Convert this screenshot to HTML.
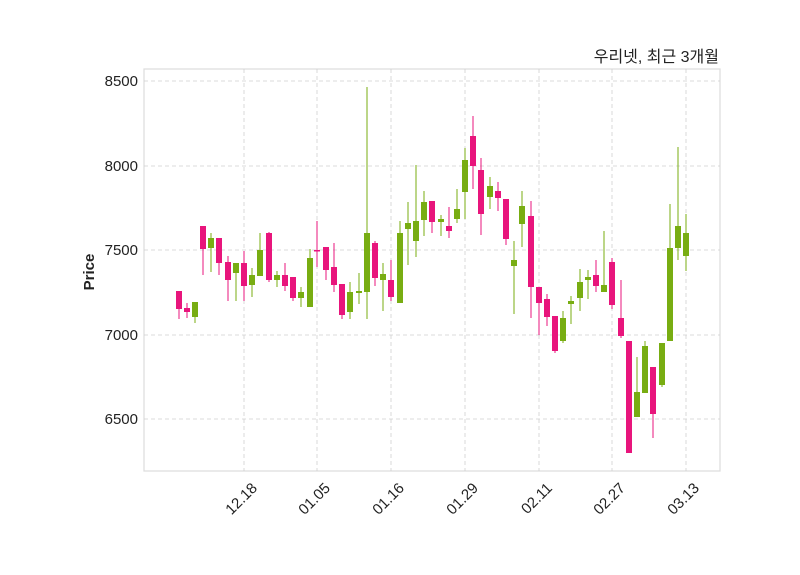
<!DOCTYPE html>
<html><head><meta charset="utf-8"><style>
body{margin:0;background:#fff;}
svg{display:block;font-family:"Liberation Sans","Noto Sans CJK KR",sans-serif;}
.r line,.g line{shape-rendering:crispEdges}
.r line{stroke:#e8157c;stroke-width:1}
.r rect{fill:#e8157c}
.g line{stroke:#78ad12;stroke-width:1}
.g rect{fill:#78ad12}
.grid line{stroke:#cfcfcf;stroke-width:0.8;stroke-dasharray:4,3}
</style></head><body>
<svg width="800" height="575" viewBox="0 0 800 575">
<rect x="144" y="69" width="576" height="402" fill="#fff" stroke="#dcdcdc" stroke-width="1.2"/>
<g class="grid">
<line x1="144" x2="720" y1="81" y2="81"/><line x1="144" x2="720" y1="166" y2="166"/><line x1="144" x2="720" y1="250" y2="250"/><line x1="144" x2="720" y1="335" y2="335"/><line x1="144" x2="720" y1="419" y2="419"/>
<line x1="244" x2="244" y1="69" y2="471"/><line x1="317" x2="317" y1="69" y2="471"/><line x1="391" x2="391" y1="69" y2="471"/><line x1="465" x2="465" y1="69" y2="471"/><line x1="539" x2="539" y1="69" y2="471"/><line x1="612" x2="612" y1="69" y2="471"/><line x1="686" x2="686" y1="69" y2="471"/>
</g>
<g font-size="15" fill="#222" text-anchor="end">
<text x="138" y="86">8500</text><text x="138" y="171">8000</text><text x="138" y="255">7500</text><text x="138" y="340">7000</text><text x="138" y="424">6500</text>
</g>
<g font-size="15" fill="#222" text-anchor="end">
<text transform="translate(258,489) rotate(-45)">12.18</text>
<text transform="translate(331,489) rotate(-45)">01.05</text>
<text transform="translate(405,489) rotate(-45)">01.16</text>
<text transform="translate(479,489) rotate(-45)">01.29</text>
<text transform="translate(553,489) rotate(-45)">02.11</text>
<text transform="translate(626,489) rotate(-45)">02.27</text>
<text transform="translate(700,489) rotate(-45)">03.13</text>
</g>
<text transform="translate(94,272) rotate(-90)" font-size="15" font-weight="bold" fill="#222" text-anchor="middle">Price</text>
<text x="719" y="62" font-size="16" fill="#222" text-anchor="end">우리넷, 최근 3개월</text>
<g class="r"><line x1="179" x2="179" y1="291" y2="319"/><rect x="176" y="291" width="6" height="18"/></g>
<g class="r"><line x1="187" x2="187" y1="303" y2="318"/><rect x="184" y="308" width="6" height="4"/></g>
<g class="g"><line x1="195" x2="195" y1="302" y2="323"/><rect x="192" y="302" width="6" height="15"/></g>
<g class="r"><line x1="203" x2="203" y1="226" y2="275"/><rect x="200" y="226" width="6" height="23"/></g>
<g class="g"><line x1="211" x2="211" y1="233" y2="272"/><rect x="208" y="238" width="6" height="10"/></g>
<g class="r"><line x1="219" x2="219" y1="238" y2="275"/><rect x="216" y="238" width="6" height="25"/></g>
<g class="r"><line x1="228" x2="228" y1="256" y2="301"/><rect x="225" y="262" width="6" height="18"/></g>
<g class="g"><line x1="236" x2="236" y1="263" y2="301"/><rect x="233" y="263" width="6" height="10"/></g>
<g class="r"><line x1="244" x2="244" y1="251" y2="301"/><rect x="241" y="263" width="6" height="23"/></g>
<g class="g"><line x1="252" x2="252" y1="268" y2="297"/><rect x="249" y="275" width="6" height="10"/></g>
<g class="g"><line x1="260" x2="260" y1="233" y2="276"/><rect x="257" y="250" width="6" height="26"/></g>
<g class="r"><line x1="269" x2="269" y1="232" y2="282"/><rect x="266" y="233" width="6" height="47"/></g>
<g class="g"><line x1="277" x2="277" y1="271" y2="287"/><rect x="274" y="275" width="6" height="5"/></g>
<g class="r"><line x1="285" x2="285" y1="263" y2="291"/><rect x="282" y="275" width="6" height="11"/></g>
<g class="r"><line x1="293" x2="293" y1="277" y2="301"/><rect x="290" y="277" width="6" height="21"/></g>
<g class="g"><line x1="301" x2="301" y1="287" y2="307"/><rect x="298" y="292" width="6" height="6"/></g>
<g class="g"><line x1="310" x2="310" y1="249" y2="307"/><rect x="307" y="258" width="6" height="49"/></g>
<g class="r"><line x1="317" x2="317" y1="221" y2="267"/><rect x="314" y="250" width="6" height="1.5"/></g>
<g class="r"><line x1="326" x2="326" y1="247" y2="280"/><rect x="323" y="247" width="6" height="23"/></g>
<g class="r"><line x1="334" x2="334" y1="243" y2="292"/><rect x="331" y="267" width="6" height="18"/></g>
<g class="r"><line x1="342" x2="342" y1="284" y2="319"/><rect x="339" y="284" width="6" height="31"/></g>
<g class="g"><line x1="350" x2="350" y1="282" y2="319"/><rect x="347" y="292" width="6" height="20"/></g>
<g class="g"><line x1="359" x2="359" y1="273" y2="304"/><rect x="356" y="291" width="6" height="2"/></g>
<g class="g"><line x1="367" x2="367" y1="87" y2="319"/><rect x="364" y="233" width="6" height="59"/></g>
<g class="r"><line x1="375" x2="375" y1="241" y2="286"/><rect x="372" y="243" width="6" height="35"/></g>
<g class="g"><line x1="383" x2="383" y1="263" y2="311"/><rect x="380" y="274" width="6" height="6"/></g>
<g class="r"><line x1="391" x2="391" y1="260" y2="301"/><rect x="388" y="280" width="6" height="17"/></g>
<g class="g"><line x1="400" x2="400" y1="221" y2="303"/><rect x="397" y="233" width="6" height="70"/></g>
<g class="g"><line x1="408" x2="408" y1="202" y2="265"/><rect x="405" y="223" width="6" height="6"/></g>
<g class="g"><line x1="416" x2="416" y1="165" y2="257"/><rect x="413" y="221" width="6" height="20"/></g>
<g class="g"><line x1="424" x2="424" y1="191" y2="236"/><rect x="421" y="202" width="6" height="18"/></g>
<g class="r"><line x1="432" x2="432" y1="201" y2="233"/><rect x="429" y="201" width="6" height="21"/></g>
<g class="g"><line x1="441" x2="441" y1="215" y2="236"/><rect x="438" y="219" width="6" height="3"/></g>
<g class="r"><line x1="449" x2="449" y1="207" y2="238"/><rect x="446" y="226" width="6" height="5"/></g>
<g class="g"><line x1="457" x2="457" y1="189" y2="223"/><rect x="454" y="209" width="6" height="10"/></g>
<g class="g"><line x1="465" x2="465" y1="148" y2="219"/><rect x="462" y="160" width="6" height="32"/></g>
<g class="r"><line x1="473" x2="473" y1="116" y2="189"/><rect x="470" y="136" width="6" height="30"/></g>
<g class="r"><line x1="481" x2="481" y1="158" y2="235"/><rect x="478" y="170" width="6" height="44"/></g>
<g class="g"><line x1="490" x2="490" y1="177" y2="209"/><rect x="487" y="186" width="6" height="11"/></g>
<g class="r"><line x1="498" x2="498" y1="182" y2="211"/><rect x="495" y="191" width="6" height="7"/></g>
<g class="r"><line x1="506" x2="506" y1="199" y2="245"/><rect x="503" y="199" width="6" height="40"/></g>
<g class="g"><line x1="514" x2="514" y1="241" y2="314"/><rect x="511" y="260" width="6" height="6"/></g>
<g class="g"><line x1="522" x2="522" y1="191" y2="247"/><rect x="519" y="206" width="6" height="18"/></g>
<g class="r"><line x1="531" x2="531" y1="201" y2="318"/><rect x="528" y="216" width="6" height="71"/></g>
<g class="r"><line x1="539" x2="539" y1="287" y2="335"/><rect x="536" y="287" width="6" height="16"/></g>
<g class="r"><line x1="547" x2="547" y1="294" y2="326"/><rect x="544" y="299" width="6" height="18"/></g>
<g class="r"><line x1="555" x2="555" y1="316" y2="353"/><rect x="552" y="316" width="6" height="35"/></g>
<g class="g"><line x1="563" x2="563" y1="311" y2="343"/><rect x="560" y="318" width="6" height="23"/></g>
<g class="g"><line x1="571" x2="571" y1="296" y2="324"/><rect x="568" y="301" width="6" height="3"/></g>
<g class="g"><line x1="580" x2="580" y1="269" y2="311"/><rect x="577" y="282" width="6" height="16"/></g>
<g class="g"><line x1="588" x2="588" y1="270" y2="299"/><rect x="585" y="277" width="6" height="3"/></g>
<g class="r"><line x1="596" x2="596" y1="260" y2="292"/><rect x="593" y="275" width="6" height="11"/></g>
<g class="g"><line x1="604" x2="604" y1="231" y2="292"/><rect x="601" y="285" width="6" height="7"/></g>
<g class="r"><line x1="612" x2="612" y1="258" y2="309"/><rect x="609" y="262" width="6" height="43"/></g>
<g class="r"><line x1="621" x2="621" y1="280" y2="338"/><rect x="618" y="318" width="6" height="18"/></g>
<g class="r"><line x1="629" x2="629" y1="341" y2="453"/><rect x="626" y="341" width="6" height="112"/></g>
<g class="g"><line x1="637" x2="637" y1="357" y2="417"/><rect x="634" y="392" width="6" height="25"/></g>
<g class="g"><line x1="645" x2="645" y1="341" y2="393"/><rect x="642" y="346" width="6" height="47"/></g>
<g class="r"><line x1="653" x2="653" y1="367" y2="438"/><rect x="650" y="367" width="6" height="47"/></g>
<g class="g"><line x1="662" x2="662" y1="343" y2="387"/><rect x="659" y="343" width="6" height="42"/></g>
<g class="g"><line x1="670" x2="670" y1="204" y2="341"/><rect x="667" y="248" width="6" height="93"/></g>
<g class="g"><line x1="678" x2="678" y1="147" y2="260"/><rect x="675" y="226" width="6" height="22"/></g>
<g class="g"><line x1="686" x2="686" y1="214" y2="271"/><rect x="683" y="233" width="6" height="23"/></g>
</svg>
</body></html>
